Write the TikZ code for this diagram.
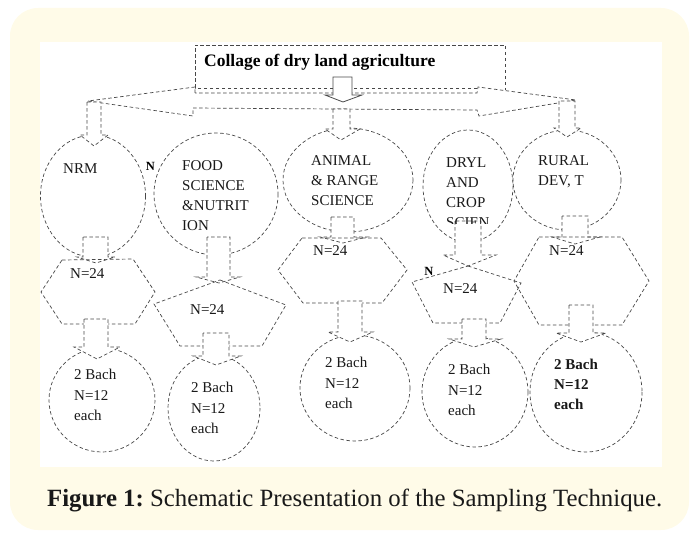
\documentclass[tikz,border=0pt]{standalone}
\usepackage{fontspec}
\setmainfont{Liberation Serif}
\definecolor{cream}{RGB}{255,251,232}
\newcommand{\dnarrow}[8]{\draw[barrow] (#1,#3) -- (#1,#4) -- (#5,#4) -- (#7,#8) -- (#6,#4) -- (#2,#4) -- (#2,#3) -- cycle;}
\begin{document}
\begin{tikzpicture}[x=1pt,y=-1pt,
  dl/.style={draw=black!72, line width=0.7pt, dash pattern=on 3.5pt off 2.5pt},
  barrow/.style={dl, fill=white, line join=miter},
  lbl/.style={inner sep=0pt, anchor=base west, font=\fontsize{15}{18}\selectfont, text=black!90},
  blbl/.style={lbl, font=\fontsize{15}{18}\selectfont\bfseries}]
\useasboundingbox (0,0) rectangle (692,532);
\fill[cream, rounded corners=28pt] (10,8) rectangle (689,530);
\fill[white] (40,42) rectangle (662,467);

% double horizontal block arrow and title box
\draw[dl, fill=white] (195,93) -- (195,87) -- (88,101) -- (193,116) -- (193,108) -- (477,110) -- (479,116) -- (576,100) -- (478,87) -- (477,93) -- cycle;
\draw[dl] (477,88) -- (195,88) -- (195,45) -- (505,45) -- (505,90.5);

% row 1 ellipses
\draw[dl] (93,196) ellipse [x radius=52.5, y radius=61];
\draw[dl] (216,194) ellipse [x radius=62, y radius=61];
\draw[dl] (348,180) ellipse [x radius=65, y radius=52];
\draw[dl] (468,186) ellipse [x radius=45, y radius=56];
\draw[dl] (567,180) ellipse [x radius=54, y radius=50];

% top down arrows
\dnarrow{87}{101}{102}{135}{80}{108}{94}{146}
\dnarrow{333}{350}{109}{129}{325}{360}{341}{140}
\dnarrow{559}{575}{101}{128}{554}{581}{567}{137}

% solid arrow from title
\draw[draw=black!70, line width=0.8pt, fill=white, line join=miter] (333,77) -- (333,95) -- (325,95) -- (343,102) -- (362,95) -- (352,95) -- (352,77) -- cycle;

% arrows row1 -> row2
\dnarrow{83}{108}{237}{257}{77}{115}{96}{263}
\dnarrow{207}{230}{237}{277}{196}{240}{219}{283}
\dnarrow{331}{354}{217}{237}{320}{367}{343}{243}
\dnarrow{455}{481}{221}{255}{443}{496}{468}{266}
\dnarrow{562}{588}{216}{237}{552}{600}{575}{244}

% row 2 polygons
\draw[dl] (62,260) -- (133,259) -- (155,292) -- (135,324) -- (62,324) -- (41,292) -- cycle;
\draw[dl] (220,280) -- (286,305) -- (262,346) -- (180,346) -- (154,304) -- cycle;
\draw[dl] (302,238) -- (381,238) -- (407,270) -- (382,303) -- (303,303) -- (278,270) -- cycle;
\draw[dl] (468,266) -- (521,283) -- (500,323) -- (433,323) -- (412,282) -- cycle;
\draw[dl] (539,237) -- (622,237) -- (649,281) -- (622,325) -- (539,325) -- (514,281) -- cycle;

% bottom circles
\draw[dl] (102,400) ellipse [x radius=53, y radius=52];
\draw[dl] (214,408) ellipse [x radius=46, y radius=53];
\draw[dl] (355,388) ellipse [x radius=55, y radius=53];
\draw[dl] (475,392) ellipse [x radius=53, y radius=55];
\draw[dl] (586,392) ellipse [x radius=56, y radius=60];

% arrows row2 -> row3
\dnarrow{84}{108}{319}{347}{74}{120}{97}{359}
\dnarrow{203}{229}{333}{356}{193}{241}{216}{365}
\dnarrow{338}{362}{301}{332}{328}{373}{350}{342}
\dnarrow{462}{486}{319}{339}{449}{501}{474}{347}
\dnarrow{569}{593}{305}{333}{556}{606}{581}{342}

% texts
\node[inner sep=0pt, anchor=base west, font=\fontsize{17.5}{20}\selectfont\bfseries] (title) at (204,67) {Collage of dry land agriculture};

\node[lbl] (nrm) at (63,173) {NRM};
\node[inner sep=0pt, font=\fontsize{12.5}{14}\selectfont\bfseries] (nsmalla) at (150.5,166.5) {N};

\node[lbl] (fooda) at (182,170) {FOOD};
\node[lbl] (foodb) at (182,190) {SCIENCE};
\node[lbl] (foodc) at (182,210) {\&NUTRIT};
\node[lbl] (foodd) at (182,230) {ION};

\node[lbl] (anima) at (311,165) {ANIMAL};
\node[lbl] (animb) at (311,185) {\& RANGE};
\node[lbl] (animc) at (311,205) {SCIENCE};

\node[lbl] (drya) at (446,167) {DRYL};
\node[lbl] (dryb) at (446,187) {AND};
\node[lbl] (dryc) at (446,207) {CROP};
\begin{scope}
\clip (430,205) rectangle (500,223);
\node[lbl] (dryd) at (446,227) {SCIEN};
\end{scope}

\node[lbl] (rura) at (538,165) {RURAL};
\node[lbl] (rurb) at (538,185) {DEV, T};

\node[lbl] (na) at (70,278) {N=24};
\node[lbl] (nb) at (190,314) {N=24};
\node[lbl] (nc) at (313,255) {N=24};
\node[lbl] (nd) at (443,293) {N=24};
\node[inner sep=0pt, font=\fontsize{12.5}{14}\selectfont\bfseries] (nsmallb) at (429,271) {N};
\node[lbl] (ne) at (549,255) {N=24};

\node[lbl] (ba1) at (74,379) {2 Bach};
\node[lbl] (ba2) at (74,400) {N=12};
\node[lbl] (ba3) at (74,420) {each};
\node[lbl] (bb1) at (191,392) {2 Bach};
\node[lbl] (bb2) at (191,413) {N=12};
\node[lbl] (bb3) at (191,433) {each};
\node[lbl] (bc1) at (325,367) {2 Bach};
\node[lbl] (bc2) at (325,388) {N=12};
\node[lbl] (bc3) at (325,408) {each};
\node[lbl] (bd1) at (448,374) {2 Bach};
\node[lbl] (bd2) at (448,395) {N=12};
\node[lbl] (bd3) at (448,415) {each};
\node[blbl] (be1) at (554,369) {2 Bach};
\node[blbl] (be2) at (554,389) {N=12};
\node[blbl] (be3) at (554,409) {each};

\node[inner sep=0pt, anchor=base west, font=\fontsize{24.8}{28}\selectfont, text=black!90] (cap) at (47,506) {\textbf{Figure 1:}\hspace{-2pt} Schematic Presentation of the Sampling Technique.};
\end{tikzpicture}
\end{document}
